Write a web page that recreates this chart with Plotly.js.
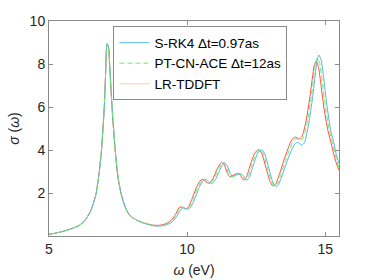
<!DOCTYPE html>
<html><head><meta charset="utf-8">
<script src="https://cdn.plot.ly/plotly-3.0.1.min.js"></script>
<style>html,body{margin:0;padding:0;background:#fff}#chart{width:374px;height:280px}</style>
</head><body><div id="chart"></div>
<script>
var legendNames = ["S-RK4 \u0394t=0.97as", "PT-CN-ACE \u0394t=12as", "LR-TDDFT"];
var xTicks = [5, 10, 15];
var yTicks = [2, 4, 6, 8, 10];

var rk4W = [5.0,5.3,5.6,5.9,6.1,6.3,6.5,6.6,6.7,6.8,6.9,7.0,7.05,7.1,7.15,7.2,7.3,7.4,7.5,7.6,7.7,7.8,7.9,8.0,8.2,8.4,8.6,8.8,9.0,9.2,9.4,9.5,9.6,9.7,9.8,9.87,9.95,10.05,10.15,10.3,10.45,10.6,10.7,10.8,10.9,11.05,11.2,11.35,11.45,11.55,11.65,11.8,11.95,12.05,12.15,12.25,12.4,12.55,12.68,12.8,12.95,13.1,13.2,13.3,13.45,13.6,13.75,13.9,14.02,14.15,14.25,14.4,14.55,14.7,14.77,14.85,14.95,15.05,15.2,15.3,15.4,15.5];
var rk4S = [0.08,0.15,0.25,0.38,0.5,0.72,1.13,1.48,1.93,2.75,3.95,5.9,7.5,8.9,8.85,7.9,5.7,4.0,2.75,2.05,1.6,1.23,1.02,0.88,0.72,0.61,0.53,0.47,0.46,0.5,0.6,0.7,0.87,1.08,1.27,1.32,1.28,1.25,1.38,1.8,2.3,2.6,2.63,2.5,2.43,2.68,3.12,3.4,3.28,2.95,2.75,2.84,2.9,2.77,2.6,2.72,3.3,3.82,4.02,3.85,3.2,2.52,2.3,2.37,2.85,3.4,3.9,4.28,4.36,4.22,4.35,5.2,6.5,8.1,8.42,8.2,7.3,6.2,4.9,4.4,3.8,3.36];

var ptW = [5.0,5.3,5.6,5.9,6.1,6.3,6.5,6.6,6.7,6.8,6.9,7.0,7.05,7.1,7.15,7.2,7.3,7.4,7.5,7.6,7.7,7.8,7.9,8.0,8.2,8.4,8.6,8.8,9.0,9.2,9.4,9.5,9.6,9.7,9.8,9.87,9.95,10.05,10.2,10.35,10.5,10.62,10.72,10.82,10.97,11.15,11.3,11.4,11.5,11.6,11.75,11.9,12.0,12.1,12.2,12.35,12.5,12.63,12.75,12.9,13.05,13.15,13.25,13.4,13.55,13.7,13.85,13.96,14.08,14.2,14.35,14.5,14.65,14.72,14.8,14.9,15.0,15.15,15.25,15.4,15.5];
var ptS = [0.08,0.15,0.25,0.38,0.5,0.72,1.14,1.49,1.94,2.78,3.98,5.95,7.55,8.95,8.83,7.85,5.65,3.95,2.72,2.02,1.57,1.21,1.01,0.87,0.72,0.62,0.54,0.49,0.48,0.53,0.65,0.78,0.96,1.2,1.33,1.33,1.27,1.3,1.65,2.15,2.5,2.63,2.52,2.45,2.65,3.12,3.42,3.3,2.95,2.75,2.84,2.91,2.78,2.6,2.73,3.32,3.84,4.02,3.85,3.2,2.54,2.32,2.39,2.88,3.45,4.0,4.45,4.52,4.45,4.55,5.3,6.5,8.0,8.3,8.05,7.1,6.1,4.9,4.4,3.6,3.15];

var lrW = [5.0,5.3,5.6,5.9,6.1,6.3,6.5,6.6,6.7,6.8,6.9,7.0,7.05,7.1,7.15,7.2,7.3,7.4,7.5,7.6,7.7,7.8,7.9,8.0,8.2,8.4,8.6,8.8,9.0,9.2,9.4,9.5,9.6,9.7,9.78,9.85,9.95,10.05,10.2,10.35,10.5,10.6,10.7,10.8,10.95,11.1,11.25,11.35,11.45,11.55,11.7,11.85,11.95,12.05,12.15,12.3,12.45,12.58,12.7,12.85,13.0,13.1,13.2,13.35,13.5,13.65,13.8,13.92,14.05,14.15,14.3,14.45,14.6,14.67,14.75,14.85,14.95,15.1,15.2,15.35,15.5];
var lrS = [0.08,0.15,0.25,0.38,0.5,0.72,1.15,1.5,1.95,2.8,4.0,6.0,7.6,8.95,8.8,7.8,5.6,3.9,2.7,2.0,1.55,1.2,1.0,0.87,0.72,0.62,0.55,0.5,0.5,0.56,0.7,0.85,1.05,1.3,1.36,1.32,1.25,1.35,1.8,2.3,2.6,2.64,2.5,2.45,2.7,3.15,3.42,3.3,2.95,2.75,2.85,2.92,2.78,2.6,2.75,3.35,3.85,4.02,3.85,3.2,2.55,2.33,2.4,2.9,3.5,4.05,4.5,4.6,4.52,4.6,5.3,6.5,7.9,8.13,7.9,7.0,6.0,4.9,4.4,3.6,3.05];

var traces = [
  {x: lrW, y: lrS, mode: 'lines', line: {color: '#ff5035', width: 1, shape: 'spline', smoothing: 0.6}, showlegend: false, hoverinfo: 'skip'},
  {x: rk4W, y: rk4S, mode: 'lines', name: legendNames[0], line: {color: '#5ab4e6', width: 1, shape: 'spline', smoothing: 0.6}},
  {x: ptW, y: ptS, mode: 'lines', name: legendNames[1], line: {color: '#66f066', width: 1, dash: '5px,3px', shape: 'spline', smoothing: 0.6}},
  {x: [null], y: [null], mode: 'lines', name: legendNames[2], line: {color: '#f8d49a', width: 1}}
];

var axisCommon = {
  showline: true, linecolor: '#8a8a8a', linewidth: 1, mirror: 'ticks',
  ticks: 'inside', ticklen: 4, tickcolor: '#8a8a8a', showgrid: false, zeroline: false,
  tickfont: {family: 'Liberation Sans, Arial, sans-serif', size: 14, color: '#262626'}
};

var layout = {
  width: 374, height: 280,
  margin: {l: 49, r: 35, t: 21, b: 44},
  paper_bgcolor: '#ffffff', plot_bgcolor: '#ffffff',
  font: {family: 'Liberation Sans, Arial, sans-serif', size: 14, color: '#262626'},
  xaxis: Object.assign({}, axisCommon, {range: [5, 15.5], tickvals: xTicks, ticktext: xTicks.map(String),
    title: {text: '<i>\u03c9</i> (eV)', standoff: 9, font: {size: 14, color: '#262626'}}}),
  yaxis: Object.assign({}, axisCommon, {range: [0, 10], tickvals: yTicks, ticktext: yTicks.map(String),
    title: {text: '<i>\u03c3</i> (<i>\u03c9</i>)', standoff: 6, font: {size: 14, color: '#262626'}}}),
  showlegend: true,
  legend: {x: 0.222, y: 0.975, xanchor: 'left', yanchor: 'top', bgcolor: '#ffffff',
    bordercolor: '#8a8a8a', borderwidth: 1, tracegroupgap: 0, itemwidth: 30,
    font: {family: 'Liberation Sans, Arial, sans-serif', size: 13.5, color: '#000000'}}
};

Plotly.newPlot('chart', traces, layout, {displayModeBar: false, staticPlot: true});
</script></body></html>
